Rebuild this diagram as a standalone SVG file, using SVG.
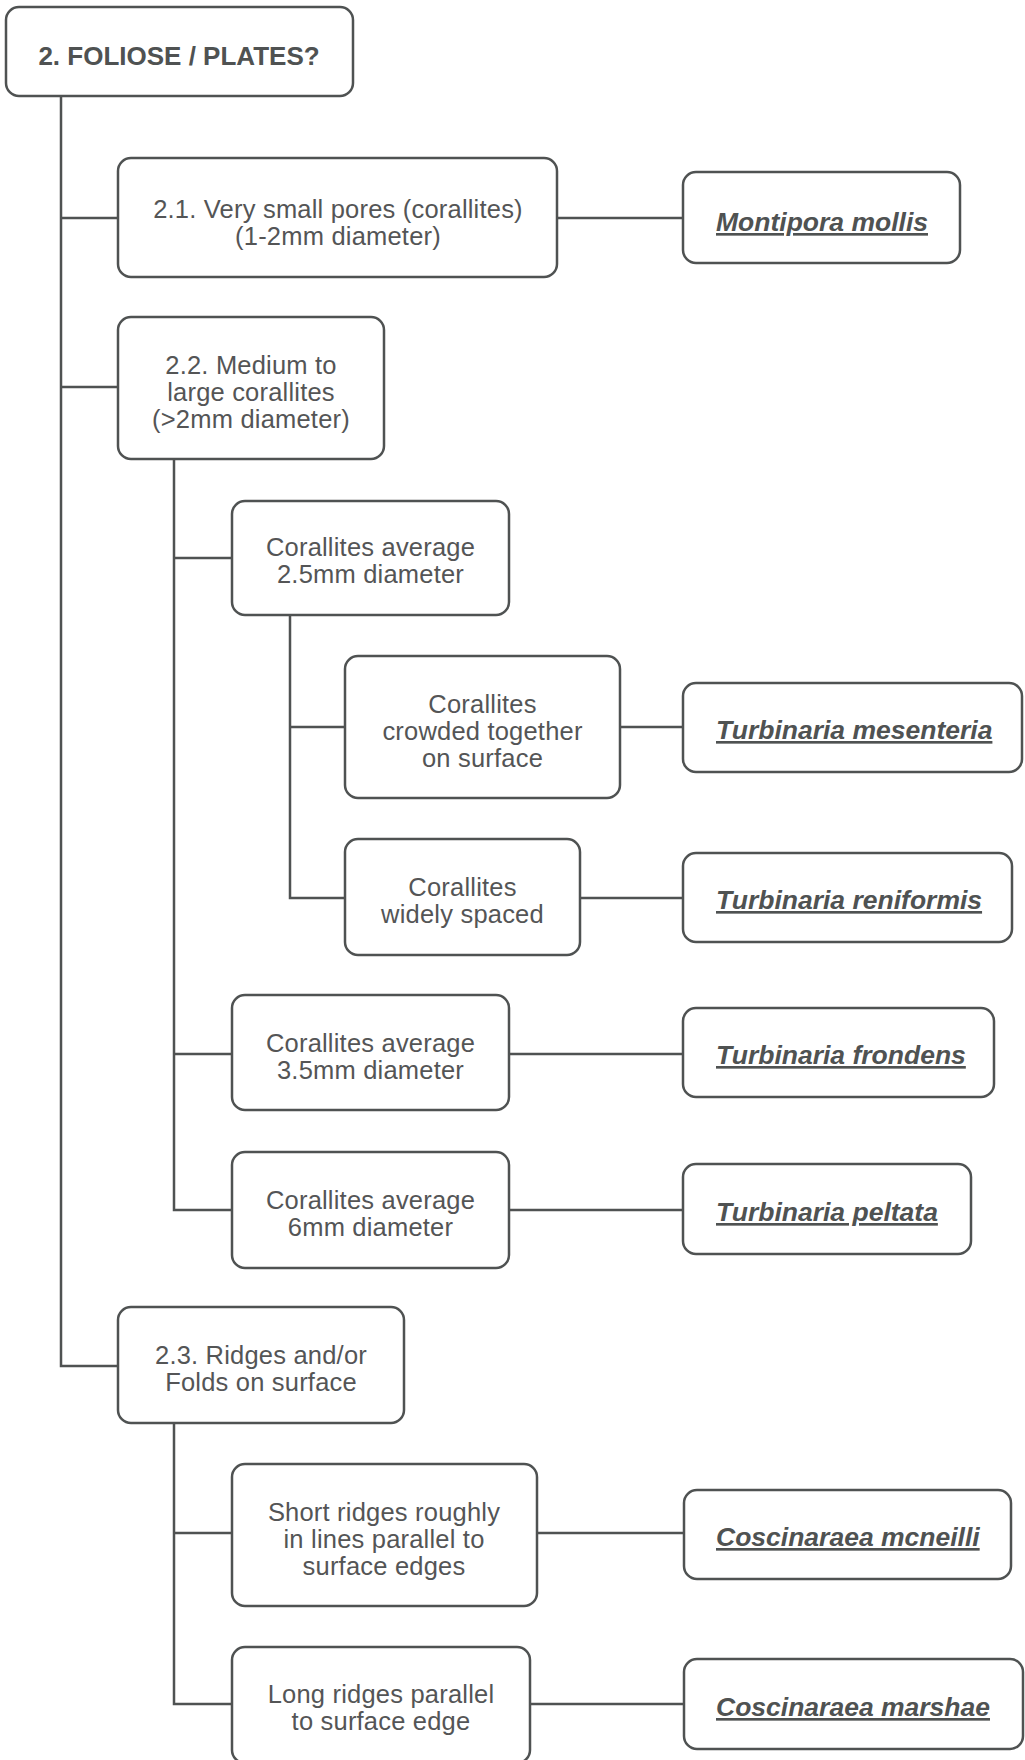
<svg xmlns="http://www.w3.org/2000/svg" width="1025" height="1760" viewBox="0 0 1025 1760">
<style>
  .box { fill: #ffffff; stroke: #4f5252; stroke-width: 2.5; }
  .line { fill: none; stroke: #4f5252; stroke-width: 2.5; }
  .t { font-family: "Liberation Sans", Arial, Helvetica, sans-serif; font-size: 25.5px; letter-spacing: 0.2px; fill: #545556; text-anchor: middle; }
  .title { font-family: "Liberation Sans", Arial, Helvetica, sans-serif; font-size: 26px; font-weight: bold; fill: #4f5252; text-anchor: middle; }
  .sp { font-family: "Liberation Sans", Arial, Helvetica, sans-serif; font-size: 26.5px; font-weight: bold; font-style: italic; fill: #4f5252; text-anchor: start; text-decoration: underline; }
</style>
<rect width="1025" height="1760" fill="#ffffff"/>
<g id="connectors">
  <path class="line" d="M61,96 V1366 H118"/>
  <path class="line" d="M61,218 H118"/>
  <path class="line" d="M61,387 H118"/>
  <path class="line" d="M557,218 H683"/>
  <path class="line" d="M174,459 V1210 H232"/>
  <path class="line" d="M174,558 H232"/>
  <path class="line" d="M174,1054 H232"/>
  <path class="line" d="M290,615 V898 H345"/>
  <path class="line" d="M290,727 H345"/>
  <path class="line" d="M620,727 H683"/>
  <path class="line" d="M580,898 H683"/>
  <path class="line" d="M509,1054 H683"/>
  <path class="line" d="M509,1210 H683"/>
  <path class="line" d="M174,1423 V1704 H232"/>
  <path class="line" d="M174,1533 H232"/>
  <path class="line" d="M537,1533 H684"/>
  <path class="line" d="M530,1704 H684"/>
</g>
<g id="root">
  <rect class="box" x="6" y="7" width="347" height="89" rx="13"/>
  <text class="title" x="179" y="65">2. FOLIOSE / PLATES?</text>
</g>
<g id="n2-1">
  <rect class="box" x="118" y="158" width="439" height="119" rx="13"/>
  <text class="t" x="338" y="218">2.1. Very small pores (corallites)</text>
  <text class="t" x="338" y="245">(1-2mm diameter)</text>
</g>
<g id="montipora-mollis">
  <rect class="box" x="683" y="172" width="277" height="91" rx="13"/>
  <text class="sp" x="716" y="231" textLength="212" lengthAdjust="spacingAndGlyphs">Montipora mollis</text>
</g>
<g id="n2-2">
  <rect class="box" x="118" y="317" width="266" height="142" rx="13"/>
  <text class="t" x="251" y="374">2.2. Medium to</text>
  <text class="t" x="251" y="401">large corallites</text>
  <text class="t" x="251" y="428">(&gt;2mm diameter)</text>
</g>
<g id="n2-5mm">
  <rect class="box" x="232" y="501" width="277" height="114" rx="13"/>
  <text class="t" x="370.5" y="556">Corallites average</text>
  <text class="t" x="370.5" y="583">2.5mm diameter</text>
</g>
<g id="n-crowded">
  <rect class="box" x="345" y="656" width="275" height="142" rx="13"/>
  <text class="t" x="482.5" y="713">Corallites</text>
  <text class="t" x="482.5" y="740">crowded together</text>
  <text class="t" x="482.5" y="767">on surface</text>
</g>
<g id="turbinaria-mesenteria">
  <rect class="box" x="683" y="683" width="339" height="89" rx="13"/>
  <text class="sp" x="716" y="739">Turbinaria mesenteria</text>
</g>
<g id="n-widely">
  <rect class="box" x="345" y="839" width="235" height="116" rx="13"/>
  <text class="t" x="462.5" y="896">Corallites</text>
  <text class="t" x="462.5" y="923">widely spaced</text>
</g>
<g id="turbinaria-reniformis">
  <rect class="box" x="683" y="853" width="329" height="89" rx="13"/>
  <text class="sp" x="716" y="909">Turbinaria reniformis</text>
</g>
<g id="n3-5mm">
  <rect class="box" x="232" y="995" width="277" height="115" rx="13"/>
  <text class="t" x="370.5" y="1052">Corallites average</text>
  <text class="t" x="370.5" y="1079">3.5mm diameter</text>
</g>
<g id="turbinaria-frondens">
  <rect class="box" x="683" y="1008" width="311" height="89" rx="13"/>
  <text class="sp" x="716" y="1064">Turbinaria frondens</text>
</g>
<g id="n6mm">
  <rect class="box" x="232" y="1152" width="277" height="116" rx="13"/>
  <text class="t" x="370.5" y="1209">Corallites average</text>
  <text class="t" x="370.5" y="1236">6mm diameter</text>
</g>
<g id="turbinaria-peltata">
  <rect class="box" x="683" y="1164" width="288" height="90" rx="13"/>
  <text class="sp" x="716" y="1221">Turbinaria peltata</text>
</g>
<g id="n2-3">
  <rect class="box" x="118" y="1307" width="286" height="116" rx="13"/>
  <text class="t" x="261" y="1364">2.3. Ridges and/or</text>
  <text class="t" x="261" y="1391">Folds on surface</text>
</g>
<g id="n-short">
  <rect class="box" x="232" y="1464" width="305" height="142" rx="13"/>
  <text class="t" x="384" y="1521">Short ridges roughly</text>
  <text class="t" x="384" y="1548">in lines parallel to</text>
  <text class="t" x="384" y="1575">surface edges</text>
</g>
<g id="coscinaraea-mcneilli">
  <rect class="box" x="684" y="1490" width="327" height="89" rx="13"/>
  <text class="sp" x="716" y="1546">Coscinaraea mcneilli</text>
</g>
<g id="n-long">
  <rect class="box" x="232" y="1647" width="298" height="116" rx="13"/>
  <text class="t" x="381" y="1703">Long ridges parallel</text>
  <text class="t" x="381" y="1730">to surface edge</text>
</g>
<g id="coscinaraea-marshae">
  <rect class="box" x="684" y="1659" width="339" height="90" rx="13"/>
  <text class="sp" x="716" y="1716">Coscinaraea marshae</text>
</g>
</svg>
